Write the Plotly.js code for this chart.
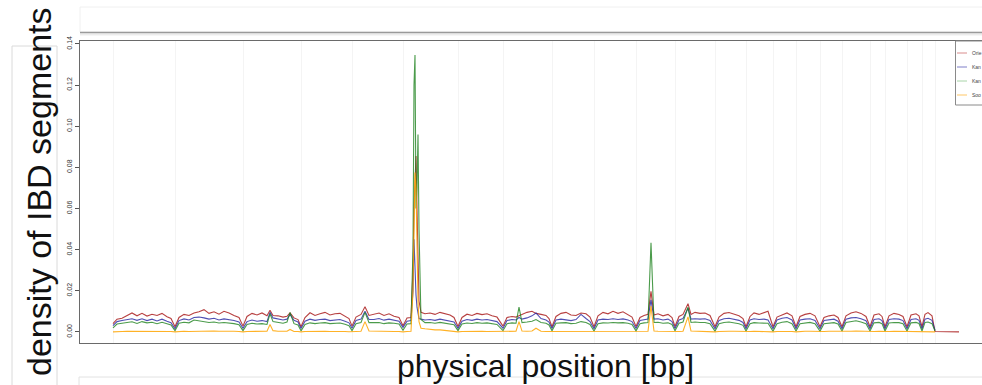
<!DOCTYPE html>
<html>
<head>
<meta charset="utf-8">
<script src="https://cdn.plot.ly/plotly-3.0.1.min.js"></script>
<style>html,body{margin:0;padding:0;background:#fff;overflow:hidden;}#chart{width:982px;height:385px;}</style>
</head>
<body>
<div id="chart"></div>
<script>
// genome-wide window index (chromosomes concatenated)
const windowPos = [
  0,4,9,14,19,24,29,34,39,44,49,54,58,62,
  66,71,76,81,86,91,96,101,106,111,116,121,126,130,
  134,139,144,149,154,157,160,165,170,174,177,181,185,188,
  192,197,202,207,212,217,222,227,232,236,239,
  243,248,252,256,261,266,271,276,281,286,290,
  294,298,300,301,302,303,304,305,306,308,312,317,322,327,332,337,341,345,
  349,354,359,364,369,374,379,384,390,
  394,399,403,406,409,414,419,423,428,433,436,439,
  443,448,453,458,463,468,473,477,481,
  485,490,495,500,505,510,515,519,523,
  527,531,535,538,541,545,550,555,559,562,
  566,570,575,578,582,587,592,597,602,
  606,611,616,621,626,630,633,
  637,641,646,651,655,660,
  664,669,674,679,683,
  687,692,697,702,707,
  711,716,721,725,729,
  733,738,743,748,753,757,
  761,766,769,772,
  776,781,786,790,794,
  798,803,806,809,
  812,815,819,822,
  846
];
// chromosome boundaries (window index)
const chromBounds = [0,62,130,188,239,290,345,390,439,481,523,562,602,633,660,683,707,729,757,772,794,809,822];

const seriesNames = ["Orie", "Kan", "Kan", "Soo"];

const densRed = [
  .0040,.0062,.0066,.0078,.0092,.0078,.0090,.0077,.0086,.0080,.0090,.0074,.0065,.0025,
  .0070,.0085,.0080,.0092,.0098,.0108,.0090,.0098,.0086,.0100,.0092,.0080,.0070,.0028,
  .0075,.0090,.0082,.0092,.0078,.0105,.0080,.0078,.0072,.0076,.0092,.0068,.0060,.0025,
  .0070,.0093,.0080,.0088,.0095,.0082,.0088,.0090,.0078,.0065,.0028,
  .0072,.0085,.0122,.0080,.0086,.0092,.0080,.0088,.0076,.0070,.0030,
  .0068,.0070,.0300,.0600,.0800,.0855,.0600,.0300,.0150,.0095,.0088,.0092,.0085,.0095,.0090,.0082,.0070,.0026,
  .0070,.0086,.0080,.0090,.0084,.0088,.0078,.0072,.0028,
  .0070,.0075,.0072,.0078,.0085,.0095,.0100,.0090,.0085,.0080,.0065,.0025,
  .0075,.0090,.0095,.0082,.0080,.0092,.0088,.0072,.0025,
  .0078,.0095,.0088,.0100,.0090,.0098,.0085,.0072,.0026,
  .0070,.0080,.0085,.0197,.0082,.0088,.0078,.0085,.0070,.0026,
  .0075,.0085,.0137,.0085,.0095,.0090,.0092,.0080,.0025,
  .0072,.0090,.0094,.0086,.0078,.0065,.0025,
  .0075,.0092,.0085,.0092,.0100,.0025,
  .0072,.0082,.0092,.0078,.0025,
  .0075,.0085,.0090,.0078,.0025,
  .0070,.0078,.0082,.0070,.0025,
  .0078,.0092,.0098,.0090,.0075,.0025,
  .0082,.0088,.0075,.0025,
  .0078,.0090,.0085,.0075,.0025,
  .0082,.0088,.0078,.0025,
  .0085,.0094,.0078,.0002,
  0
];
const densBlue = [
  .0030,.0050,.0055,.0060,.0064,.0056,.0064,.0055,.0062,.0053,.0062,.0052,.0045,.0015,
  .0055,.0063,.0058,.0070,.0072,.0068,.0062,.0066,.0058,.0063,.0060,.0055,.0048,.0018,
  .0050,.0058,.0052,.0055,.0050,.0095,.0068,.0062,.0058,.0062,.0085,.0056,.0048,.0016,
  .0052,.0062,.0056,.0060,.0062,.0055,.0058,.0060,.0052,.0044,.0018,
  .0055,.0062,.0100,.0060,.0060,.0065,.0057,.0062,.0058,.0052,.0022,
  .0052,.0055,.0200,.0450,.0300,.0180,.0120,.0080,.0065,.0062,.0058,.0060,.0056,.0062,.0058,.0054,.0048,.0017,
  .0052,.0060,.0056,.0062,.0058,.0060,.0055,.0050,.0018,
  .0055,.0060,.0058,.0070,.0062,.0068,.0078,.0092,.0065,.0058,.0048,.0016,
  .0058,.0062,.0060,.0055,.0060,.0085,.0065,.0050,.0015,
  .0058,.0062,.0060,.0064,.0060,.0063,.0058,.0050,.0016,
  .0055,.0060,.0063,.0156,.0062,.0064,.0058,.0062,.0050,.0016,
  .0058,.0065,.0115,.0062,.0064,.0062,.0064,.0056,.0015,
  .0056,.0064,.0066,.0060,.0056,.0046,.0015,
  .0058,.0064,.0060,.0062,.0058,.0015,
  .0058,.0066,.0070,.0058,.0015,
  .0058,.0062,.0064,.0056,.0015,
  .0055,.0060,.0062,.0052,.0015,
  .0062,.0068,.0070,.0064,.0054,.0015,
  .0060,.0064,.0055,.0015,
  .0060,.0064,.0062,.0055,.0015,
  .0060,.0064,.0056,.0015,
  .0062,.0066,.0056,.0008,
  null
];
const densGreen = [
  .0020,.0038,.0042,.0046,.0049,.0041,.0050,.0044,.0047,.0040,.0047,.0040,.0034,.0006,
  .0042,.0047,.0044,.0058,.0055,.0050,.0046,.0048,.0043,.0046,.0044,.0040,.0035,.0006,
  .0036,.0042,.0038,.0040,.0036,.0088,.0050,.0045,.0042,.0048,.0094,.0040,.0034,.0005,
  .0036,.0044,.0040,.0043,.0045,.0040,.0042,.0043,.0037,.0030,.0006,
  .0040,.0046,.0095,.0045,.0044,.0046,.0040,.0044,.0042,.0038,.0008,
  .0038,.0040,.0400,.1200,.1346,.0600,.0700,.0960,.0500,.0060,.0045,.0046,.0042,.0046,.0043,.0040,.0035,.0006,
  .0038,.0043,.0041,.0045,.0042,.0044,.0040,.0036,.0006,
  .0040,.0044,.0042,.0120,.0045,.0048,.0052,.0060,.0046,.0042,.0034,.0005,
  .0042,.0044,.0045,.0040,.0042,.0050,.0046,.0036,.0004,
  .0040,.0044,.0043,.0046,.0044,.0045,.0042,.0036,.0005,
  .0040,.0044,.0046,.0433,.0046,.0047,.0042,.0044,.0036,.0005,
  .0042,.0048,.0120,.0046,.0048,.0046,.0046,.0040,.0004,
  .0040,.0046,.0048,.0044,.0040,.0032,.0004,
  .0040,.0045,.0043,.0044,.0042,.0004,
  .0040,.0047,.0050,.0040,.0004,
  .0040,.0044,.0046,.0040,.0004,
  .0040,.0044,.0045,.0038,.0004,
  .0046,.0050,.0054,.0048,.0040,.0004,
  .0044,.0046,.0040,.0004,
  .0043,.0046,.0045,.0040,.0004,
  .0044,.0046,.0041,.0004,
  .0046,.0048,.0040,.0004,
  null
];
const densOrange = [
  0,.0002,.0002,.0003,.0003,.0002,.0003,.0002,.0003,.0002,.0004,.0003,.0002,0,
  .0002,.0003,.0002,.0003,.0004,.0003,.0003,.0004,.0003,.0004,.0003,.0003,.0002,0,
  .0002,.0003,.0003,.0004,.0003,.0036,.0006,.0003,.0002,.0003,.0012,.0002,.0002,0,
  .0002,.0003,.0002,.0003,.0003,.0002,.0003,.0002,.0002,.0001,0,
  .0002,.0003,.0050,.0004,.0003,.0003,.0002,.0003,.0002,.0002,0,
  .0002,.0003,.0200,.0600,.0775,.0700,.0400,.0150,.0050,.0018,.0015,.0012,.0010,.0010,.0007,.0005,.0003,0,
  .0002,.0003,.0002,.0003,.0003,.0002,.0002,.0002,0,
  .0002,.0003,.0003,.0050,.0004,.0003,.0004,.0018,.0003,.0002,.0002,0,
  .0002,.0003,.0003,.0002,.0002,.0003,.0003,.0002,0,
  .0002,.0003,.0003,.0003,.0002,.0003,.0002,.0002,0,
  .0002,.0003,.0003,.0125,.0004,.0003,.0002,.0003,.0002,0,
  .0002,.0003,.0073,.0004,.0003,.0003,.0003,.0002,0,
  .0002,.0004,.0003,.0003,.0002,.0002,0,
  .0002,.0003,.0002,.0003,.0002,0,
  .0002,.0003,.0003,.0002,0,
  .0002,.0003,.0003,.0002,0,
  .0002,.0003,.0003,.0002,0,
  .0002,.0003,.0004,.0003,.0002,0,
  .0002,.0003,.0002,0,
  .0002,.0003,.0003,.0002,0,
  .0002,.0003,.0002,0,
  .0002,.0003,.0002,0,
  null
];

const yTickVals = [0, 0.02, 0.04, 0.06, 0.08, 0.10, 0.12, 0.14];
const yTickText = ["0.00", "0.02", "0.04", "0.06", "0.08", "0.10", "0.12", "0.14"];

const seriesValues = [densRed, densBlue, densGreen, densOrange];
const lineColors = ["rgba(170,30,30,0.85)", "rgba(35,35,160,0.8)", "rgba(30,130,30,0.8)", "rgba(255,165,0,0.85)"];
const keyColors = ["#d98c8c", "#7f7fc8", "#a8d4a8", "#ffc766"];

const traces = seriesValues.map((vals, i) => ({
  type: "scatter", mode: "lines", x: windowPos, y: vals, name: seriesNames[i],
  line: {color: lineColors[i], width: 1.1}, connectgaps: false, hoverinfo: "skip"
}));

// pixel helpers for decorative panel elements (plot area: x 80..982, y 41..343)
const px = v => (v - 80) / 902;
const py = v => (343 - v) / 302;

const shapes = [
  // top neighbouring panel
  {type: "rect", xref: "paper", yref: "paper", x0: px(80), x1: px(995), y0: py(32), y1: py(7), line: {color: "#f0f0f0", width: 1}, fillcolor: "#ffffff", layer: "below"},
  {type: "line", xref: "paper", yref: "paper", x0: px(80), x1: px(995), y0: py(32.5), y1: py(32.5), line: {color: "#9a9a9a", width: 1.5}},
  {type: "line", xref: "paper", yref: "paper", x0: px(80), x1: px(995), y0: py(34), y1: py(34), line: {color: "#d4d4d4", width: 1}},
  {type: "line", xref: "paper", yref: "paper", x0: px(80), x1: px(995), y0: py(35), y1: py(35), line: {color: "#eeeeee", width: 1}},
  // y-title panel
  {type: "rect", xref: "paper", yref: "paper", x0: px(12), x1: px(57), y0: py(392), y1: py(46), line: {color: "#dadada", width: 1}, fillcolor: "#ffffff", layer: "below"},
  // bottom neighbouring panel
  {type: "rect", xref: "paper", yref: "paper", x0: px(79), x1: px(995), y0: py(395), y1: py(377), line: {color: "#e2e2e2", width: 1}, fillcolor: "#ffffff", layer: "below"},
  // legend box
  {type: "rect", xref: "paper", yref: "paper", x0: px(955.5), x1: px(1000), y0: py(105), y1: py(41), line: {color: "#8a8a8a", width: 1}, fillcolor: "#ffffff"}
];
const annotations = [
  {xref: "paper", yref: "paper", x: px(39), y: py(192), text: "density of IBD segments", textangle: -90, showarrow: false,
   xanchor: "center", yanchor: "middle", font: {family: "Liberation Sans, Arial, sans-serif", size: 34, color: "#111"}},
  {xref: "paper", yref: "paper", x: px(545.5), y: py(366), text: "physical position [bp]", showarrow: false,
   xanchor: "center", yanchor: "middle", font: {family: "Liberation Sans, Arial, sans-serif", size: 32, color: "#111"}}
];
const keyRows = [53, 67, 81, 95];
seriesNames.forEach((nm, i) => {
  shapes.push({type: "line", xref: "paper", yref: "paper", x0: px(957), x1: px(967), y0: py(keyRows[i]), y1: py(keyRows[i]), line: {color: keyColors[i], width: 1}});
  annotations.push({xref: "paper", yref: "paper", x: px(970), y: py(keyRows[i]), text: nm, showarrow: false,
    xanchor: "left", yanchor: "middle", font: {family: "Liberation Sans, Arial, sans-serif", size: 5, color: "#444"}});
});

const layout = {
  width: 982, height: 385,
  margin: {l: 80, r: 0, t: 41, b: 42, pad: 0},
  paper_bgcolor: "#ffffff", plot_bgcolor: "#ffffff",
  showlegend: false,
  xaxis: {range: [-33, 869], tickmode: "array", tickvals: chromBounds, showticklabels: false, ticks: "",
    showgrid: true, gridcolor: "#f4f4f4", gridwidth: 1, zeroline: false,
    showline: true, mirror: true, linecolor: "#6a6a6a", linewidth: 1},
  yaxis: {range: [-0.0054, 0.1414], tickmode: "array", tickvals: yTickVals, ticktext: yTickText,
    ticks: "outside", ticklen: 4, tickcolor: "#555", tickangle: -90,
    tickfont: {family: "Liberation Sans, Arial, sans-serif", size: 7, color: "#333"},
    showgrid: false, zeroline: false, showline: true, mirror: false, linecolor: "#6a6a6a", linewidth: 1},
  shapes: shapes,
  annotations: annotations
};
Plotly.newPlot("chart", traces, layout, {staticPlot: true, displayModeBar: false});
</script>
</body>
</html>
